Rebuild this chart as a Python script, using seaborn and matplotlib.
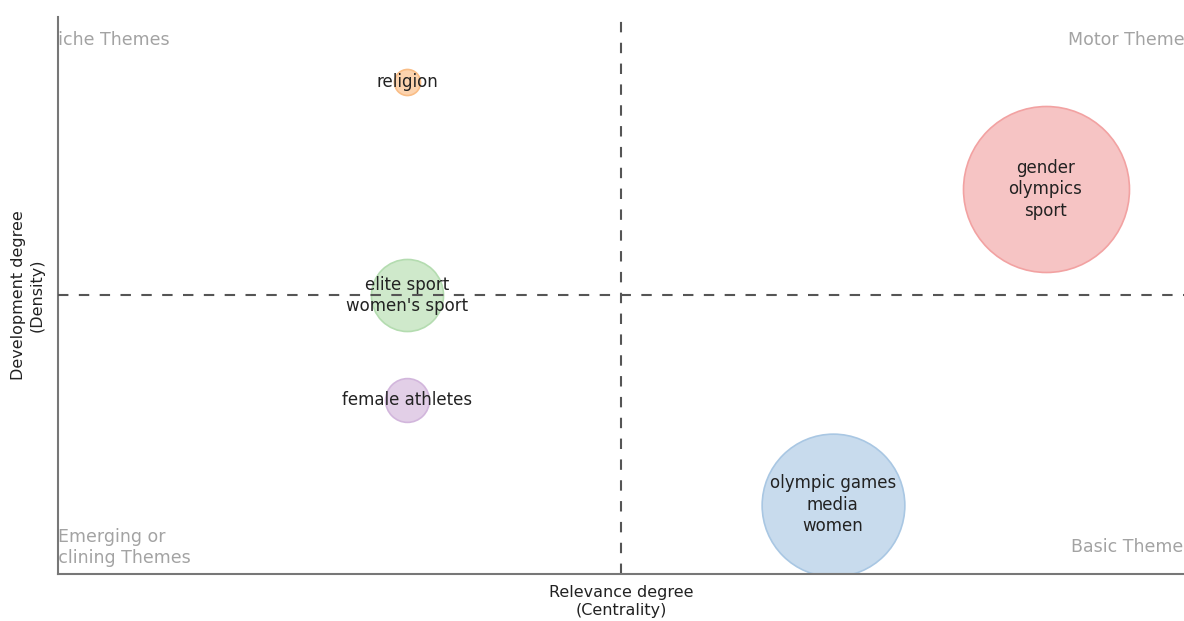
import matplotlib
matplotlib.use("Agg")
import matplotlib.pyplot as plt
import seaborn as sns
import pandas as pd

# Thematic map data
themes = ["religion", "gender\nolympics\nsport", "elite sport\nwomen's sport",
          "female athletes", "olympic games\nmedia\nwomen"]
centrality = [0.31, 0.877, 0.31, 0.31, 0.688]
density = [0.883, 0.691, 0.50, 0.312, 0.124]
occurrences = [170, 6900, 1300, 480, 5100]
fill_colors = ["#fcd3ae", "#f6c4c4", "#cfe9cb", "#e2cfe7", "#c8dbed"]
edge_colors = ["#f9bd86", "#f2a2a2", "#b4dcb0", "#d2b6dc", "#a9c7e3"]

df = pd.DataFrame({"theme": themes, "centrality": centrality,
                   "density": density, "occurrences": occurrences})

sns.set_style("white")
plt.rcParams["font.family"] = ["DejaVu Sans"]

fig = plt.figure(figsize=(11.84, 6.21), dpi=100)
ax = fig.add_axes([0.049, 0.0757, 0.951, 0.897])

# bubble area proportional to occurrences
for i, row in df.iterrows():
    sns.scatterplot(x=[row["centrality"]], y=[row["density"]], s=row["occurrences"] * 2.07,
                    color=fill_colors[i], edgecolor=edge_colors[i], linewidth=1.2,
                    alpha=1, ax=ax, legend=False, zorder=2)
    ax.text(row["centrality"], row["density"], row["theme"], ha="center", va="center",
            fontsize=12, color="#222222", linespacing=1.25, zorder=3)

ax.set_xlim(0, 1)
ax.set_ylim(0, 1)
ax.axvline(0.5, color="#555555", linestyle=(0, (5, 5)), linewidth=1.5, zorder=1)
ax.axhline(0.5, color="#555555", linestyle=(0, (5, 5)), linewidth=1.5, zorder=4)

# quadrant names (partly clipped by the axes, as in the original)
qcol = "#a3a3a3"
ax.text(-0.0115, 0.959, "Niche Themes", ha="left", va="center", fontsize=12.5,
        color=qcol, clip_on=True)
ax.text(1.009, 0.959, "Motor Themes", ha="right", va="center", fontsize=12.5,
        color=qcol, clip_on=True)
ax.text(1.007, 0.048, "Basic Themes", ha="right", va="center", fontsize=12.5,
        color=qcol, clip_on=True)
ax.text(0.048, 0.048, "Emerging or\nDeclining Themes", ha="center", va="center",
        multialignment="center", fontsize=12.5, color=qcol, linespacing=1.2,
        clip_on=True)

ax.set_xticks([])
ax.set_yticks([])
ax.set_xlabel("Relevance degree\n(Centrality)", fontsize=11.5, color="#222222",
              labelpad=8, linespacing=1.25)
ax.set_ylabel("Development degree\n(Density)", fontsize=11.5, color="#222222",
              labelpad=10, linespacing=1.25)
sns.despine(ax=ax)
for side in ["left", "bottom"]:
    ax.spines[side].set_color("#777777")
    ax.spines[side].set_linewidth(1.5)

fig.savefig("out.png", dpi=100)
